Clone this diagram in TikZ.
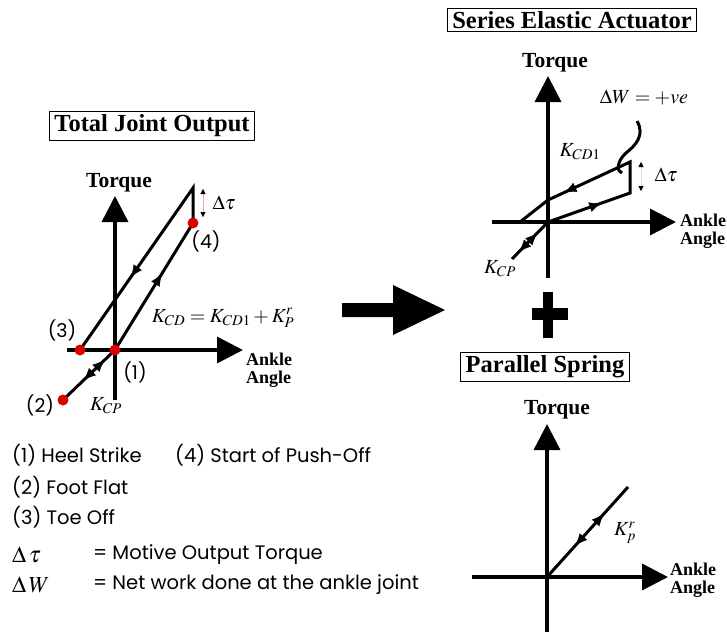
\documentclass[tikz,border=0pt]{standalone}
\usepackage{mathptmx}
\usepackage{fontspec}
\setmainfont{Liberation Serif}
\newfontfamily\legendfont{Poppins}
\usetikzlibrary{arrows.meta, decorations.markings}

\begin{document}
\begin{tikzpicture}[
  x=1pt, y=-1pt,
  axis/.style={line width=3.5pt, -{Triangle[length=26pt,width=26pt]}},
  curve/.style={line width=3pt, line join=miter},
  title/.style={draw, line width=1.2pt, inner xsep=5pt, inner ysep=3pt,
                font=\fontsize{24.5}{26}\selectfont\bfseries},
  axlabel/.style={font=\fontsize{21.5}{23}\selectfont\bfseries},
  anglabel/.style={font=\fontsize{18}{18}\selectfont\bfseries, align=left,
                   anchor=west, inner sep=0pt},
  gait/.style={circle, fill=red!85!black, inner sep=0pt, minimum size=11pt},
  gaitlbl/.style={font=\legendfont\fontsize{19}{21}\selectfont, inner sep=0pt},
  mlbl/.style={font=\fontsize{20}{22}\selectfont, inner sep=0pt},
  legend/.style={font=\legendfont\fontsize{19.5}{21}\selectfont, anchor=west,
                 inner sep=0pt},
  tipfwd/.style={postaction=decorate, decoration={markings,
      mark=at position #1 with {\arrow{Latex[length=12pt,width=10pt]}}}},
  tipback/.style={postaction=decorate, decoration={markings,
      mark=at position #1 with {\arrowreversed{Latex[length=12pt,width=10pt]}}}},
  dimline/.style={draw=red!35, line width=0.4pt,
      {Triangle[length=5pt,width=5pt,color=black]}-{Triangle[length=5pt,width=5pt,color=black]}}
]
\useasboundingbox (0,0) rectangle (727,635);

% total joint output
\node[title] (tjo) at (152,126) {Total Joint Output};
\coordinate (oL) at (115,350);
\coordinate (yLb) at (115,400);
\coordinate (yLt) at (115,196);
\coordinate (xLl) at (67,350);
\coordinate (xLr) at (243,350);
\coordinate (p2) at (63,400);
\coordinate (p3) at (80,350);
\coordinate (p4) at (193,223);
\coordinate (topL) at (193,188);
\draw[axis] (yLb) -- (yLt);
\draw[axis] (xLl) -- (xLr);
\node[axlabel] (torqL) at (119,183) {Torque};
\node[anglabel] (angL) at (246,370) {Ankle\\Angle};
\draw[curve] (oL) -- (p4) -- (topL) -- (p3);
\path[tipfwd=0.6] (oL) -- (p4);
\path[tipfwd=0.55] (topL) -- (p3);
\draw[curve] (p2) -- (oL);
\path[tipfwd=0.8] (p2) -- (oL);
\path[tipback=0.4] (p2) -- (oL);
\node[gait] (d1) at (oL) {};
\node[gait] (d2) at (p2) {};
\node[gait] (d3) at (p3) {};
\node[gait] (d4) at (p4) {};
\node[gaitlbl] (l1) at (135,372) {(1)};
\node[gaitlbl] (l2) at (40,405) {(2)};
\node[gaitlbl] (l3) at (62,330) {(3)};
\node[gaitlbl] (l4) at (206,241) {(4)};
\coordinate (dtLt) at (203,189);
\coordinate (dtLb) at (203,217);
\draw[dimline] (dtLt) -- (dtLb);
\node[mlbl] (dtL) at (224,203) {$\Delta\tau$};
\node[mlbl] (kcpL) at (106,406) {$K_{CP}$};
\node[mlbl] (kcd) at (223,318) {$K_{CD}=K_{CD1}+K^{r}_{P}$};

% big arrow and plus
\fill (342,303) -- (393,303) -- (393,285) -- (445,310) -- (393,335)
  -- (393,317) -- (342,317) -- cycle;
\fill (543,292) rectangle (553,338);
\fill (532,308) rectangle (568,320);

% series elastic actuator
\node[title] (sea) at (572,20) {Series Elastic Actuator};
\coordinate (oS) at (548,222);
\coordinate (ySb) at (548,278);
\coordinate (ySt) at (548,76);
\coordinate (xSl) at (492,222);
\coordinate (xSr) at (676,222);
\coordinate (sS) at (520,222);
\coordinate (bS) at (548,200);
\coordinate (cS) at (630,162);
\coordinate (dS) at (630,193);
\coordinate (kS) at (512,259);
\draw[axis] (ySb) -- (ySt);
\draw[axis] (xSl) -- (xSr);
\node[axlabel] (torqS) at (555,63) {Torque};
\node[anglabel] (angS) at (680,231) {Ankle\\Angle};
\draw[curve] (oS) -- (dS) -- (cS) -- (bS) -- (sS);
\path[tipfwd=0.65] (oS) -- (dS);
\path[tipfwd=0.8] (cS) -- (bS);
\draw[curve] (oS) -- (kS);
\path[tipfwd=0.8] (oS) -- (kS);
\path[tipback=0.3] (oS) -- (kS);
\draw[line width=3pt] (637,121) .. controls (645,135) and (636,145) .. (626,153)
  .. controls (616,162) and (617,172) .. (622,173);
\coordinate (dtSt) at (641,162);
\coordinate (dtSb) at (641,191);
\draw[dimline, draw=black!15] (dtSt) -- (dtSb);
\node[mlbl] (dtS) at (666,175) {$\Delta\tau$};
\node[mlbl] (dw) at (644,97) {$\Delta W=+ve$};
\node[mlbl] (kcd1) at (580,152) {$K_{CD1}$};
\node[mlbl] (kcpS) at (500,269) {$K_{CP}$};

% parallel spring
\node[title] (ps) at (545,367) {Parallel Spring};
\coordinate (oP) at (547,577);
\coordinate (yPb) at (547,632);
\coordinate (yPt) at (547,424);
\coordinate (xPl) at (472,577);
\coordinate (xPr) at (668,577);
\coordinate (eP) at (628,487);
\draw[axis] (yPb) -- (yPt);
\draw[axis] (xPl) -- (xPr);
\node[axlabel] (torqP) at (557,410) {Torque};
\node[anglabel] (angP) at (670,580) {Ankle\\Angle};
\draw[curve] (oP) -- (eP);
\path[tipfwd=0.7] (oP) -- (eP);
\path[tipback=0.35] (oP) -- (eP);
\node[mlbl] (kp) at (625,533) {$K^{r}_{p}$};

% legend
\node[legend] (g1) at (12,455) {(1) Heel Strike};
\node[legend] (g4) at (175,455) {(4) Start of Push-Off};
\node[legend] (g2) at (12,487) {(2) Foot Flat};
\node[legend] (g3) at (12,517) {(3) Toe Off};
\node[legend, font=\fontsize{23}{24}\selectfont] (s1) at (12,555) {$\Delta\,\tau$};
\node[legend] (t1) at (93,555) {= Motive Output Torque};
\node[legend, font=\fontsize{23}{24}\selectfont] (s2) at (12,585) {$\Delta\,W$};
\node[legend] (t2) at (93,585) {= Net work done at the ankle joint};
\end{tikzpicture}
\end{document}
